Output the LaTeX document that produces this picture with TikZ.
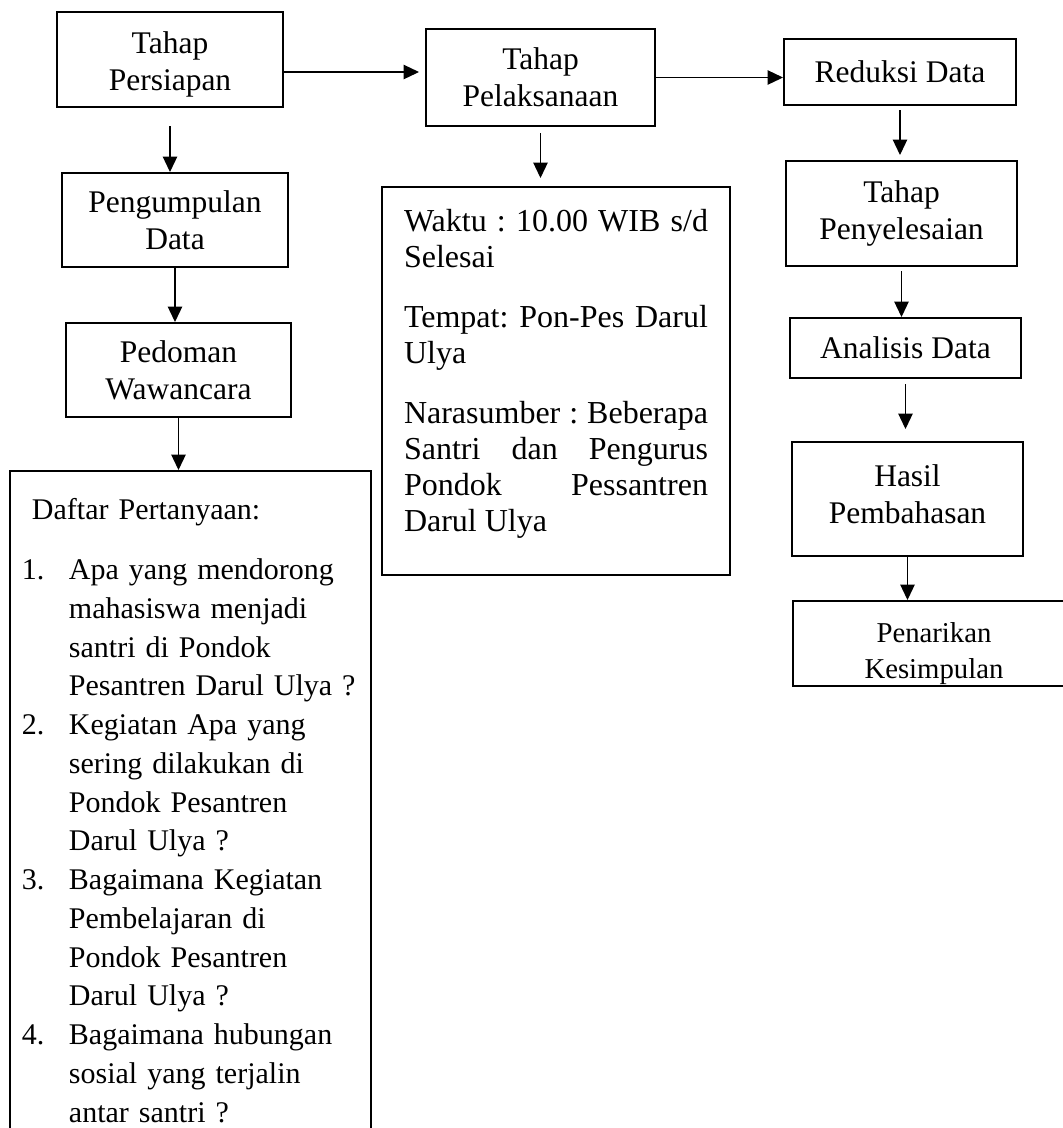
\documentclass[tikz,border=0pt]{standalone}
\usepackage{fontspec}
\setmainfont{Liberation Serif}
\usetikzlibrary{arrows.meta, positioning}

\newcommand{\qnum}[1]{\hangindent=18.8pt\hangafter=1\noindent\makebox[18.8pt][l]{#1}}
\newcommand{\tailskip}[1]{\par\vspace{#1}\hrule height 0pt}

\begin{document}
\frenchspacing
\begin{tikzpicture}[x=0.4pt, y=-0.4pt]

              \tikzset{
                stagebox/.style={
                    shape=rectangle,
                    draw=black,
                    line width=0.8pt,
                    align=center,
                    inner sep=0pt,
                    font=\fontsize{12.6}{14.8}\selectfont
                  },
                listbox/.style={
                    shape=rectangle,
                    draw=black,
                    line width=0.8pt,
                    anchor=north
                  },
                flowarrow/.style={
                    -{Triangle[length=6.2pt,width=5.8pt]},
                    line width=0.5pt
                  }
              }

              \path[use as bounding box, clip] (0,0) rectangle (1063,1128);

              \node[stagebox, minimum width=90.4pt, minimum height=38pt, text width=88pt] (persiapan) at (170,59.5) {Tahap\\Persiapan\tailskip{-4pt}};
              \node[stagebox, minimum width=91.6pt, minimum height=38.8pt] (pelaksanaan) at (540.5,77.5) {Tahap\\Pelaksanaan};
              \node[stagebox, minimum width=92.8pt, minimum height=26.4pt] (reduksi) at (900,72) {Reduksi Data};

              \node[stagebox, minimum width=90.4pt, minimum height=37.6pt] (pengumpulan) at (175,220) {Pengumpulan\\Data};
              \node[stagebox, minimum width=90pt, minimum height=37.6pt] (pedoman) at (178.5,370) {Pedoman\\Wawancara};

              \node[stagebox, minimum width=92.4pt, minimum height=42pt] (penyelesaian) at (901.5,213.5) {Tahap\\Penyelesaian};
              \node[stagebox, minimum width=92.4pt, minimum height=24pt] (analisis) at (905.5,348) {Analisis Data};
              \node[stagebox, minimum width=92.4pt, minimum height=45.6pt, text width=88pt] (hasil) at (907.5,499) {Hasil\\Pembahasan\tailskip{4pt}};

              \begin{scope}
                \clip (790,598) rectangle (1063,687.5);
                \node[stagebox, minimum width=112.8pt, minimum height=34pt, text width=100pt,
                  font=\fontsize{11.5}{14.4}\selectfont] (penarikan) at (934,643.5)
                  {Penarikan\\Kesimpulan\tailskip{-8pt}};
              \end{scope}

              \node[listbox, align=justify, text width=121.6pt, inner xsep=8.8pt, inner ysep=9pt,
                font=\fontsize{12.8}{14.4}\selectfont] (waktu) at (556,186)
                {Waktu : 10.00 WIB s/d\linebreak Selesai\par\vspace{9.6pt}
                 Tempat: Pon-Pes Darul\linebreak Ulya\par\vspace{9.6pt}
                 Narasumber : Beberapa\linebreak Santri dan Pengurus\linebreak Pondok Pessantren\linebreak Darul Ulya\tailskip{5.6pt}};

              \node[listbox, align=left, text width=134.8pt, inner xsep=4.8pt, inner ysep=11pt,
                font=\fontsize{12}{15.5}\selectfont] (daftar) at (190.5,470)
                {\hspace*{4pt}Daftar Pertanyaan:\par\vspace{8.5pt}
                 \qnum{1.}Apa yang mendorong\newline mahasiswa menjadi\newline santri di Pondok\newline Pesantren Darul Ulya ?\par
                 \qnum{2.}Kegiatan Apa yang\newline sering dilakukan di\newline Pondok Pesantren\newline Darul Ulya ?\par
                 \qnum{3.}Bagaimana Kegiatan\newline Pembelajaran di\newline Pondok Pesantren\newline Darul Ulya ?\par
                 \qnum{4.}Bagaimana hubungan\newline sosial yang terjalin\newline antar santri ?\par
                 \qnum{}\mbox{}\par};

              \draw[flowarrow, shorten >=2.4pt] (persiapan.east |- reduksi.west) -- (pelaksanaan.west |- reduksi.west);
              \draw[flowarrow] (pelaksanaan.east) -- (pelaksanaan.east -| reduksi.west);

              \draw[flowarrow, shorten <=7.2pt] (persiapan.south) -- (persiapan.south |- pengumpulan.north);
              \draw[flowarrow] (pengumpulan.south) -- (pengumpulan.south |- pedoman.north);
              \draw[flowarrow] (pedoman.south) -- (pedoman.south |- daftar.north);

              \draw[flowarrow, shorten <=2.4pt, shorten >=3.2pt] (pelaksanaan.south) -- (pelaksanaan.south |- waktu.north);

              \draw[flowarrow, shorten <=1.6pt, shorten >=2pt] (reduksi.south) -- (reduksi.south |- penyelesaian.north);
              \draw[flowarrow, shorten <=1.6pt] (penyelesaian.south) -- (penyelesaian.south |- analisis.north);
              \draw[flowarrow, shorten <=2pt, shorten >=4.8pt] (analisis.south) -- (analisis.south |- hasil.north);
              \draw[flowarrow] (hasil.south) -- (hasil.south |- penarikan.north);
            \end{tikzpicture}
\end{document}
